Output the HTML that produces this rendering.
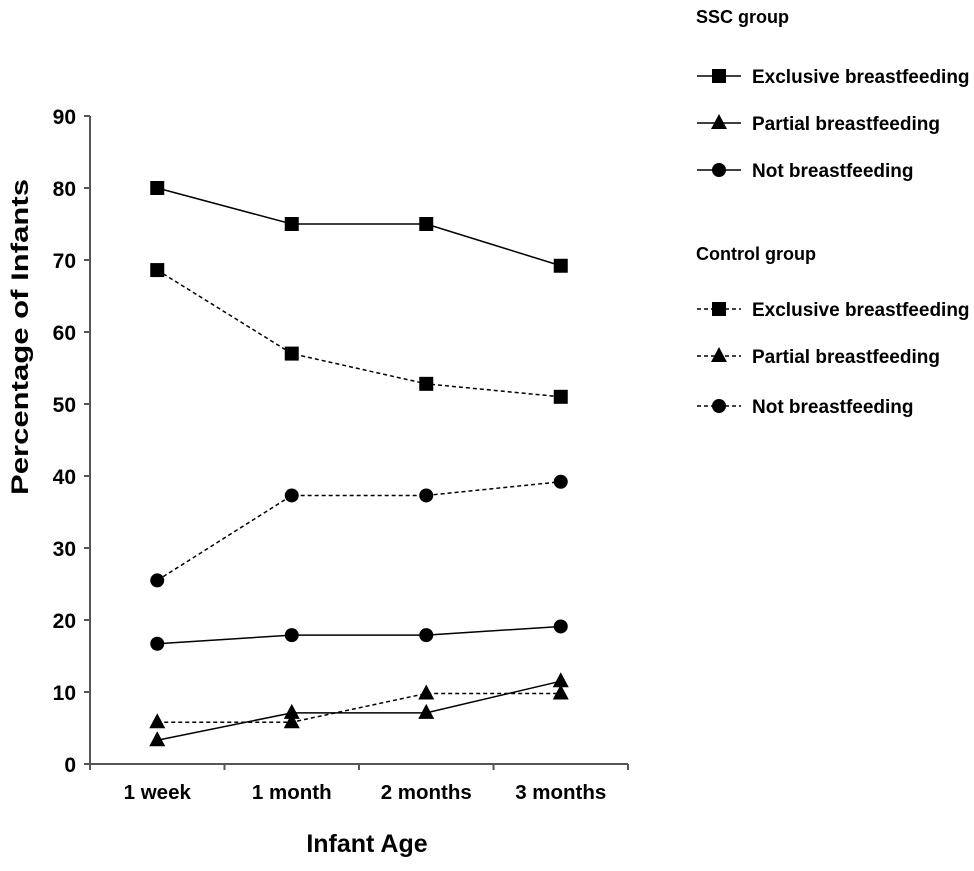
<!DOCTYPE html>
<html><head><meta charset="utf-8"><style>
body{margin:0;background:#fff}
svg text{font-family:"Liberation Sans",Arial,sans-serif;font-weight:bold;fill:#000}
</style></head><body>
<svg id="chart" width="974" height="866" xmlns="http://www.w3.org/2000/svg"></svg>
<script>
const categories=["1 week","1 month","2 months","3 months"];
const yTicks=[0,10,20,30,40,50,60,70,80,90];
const ssc_exclusive=[80,75,75,69.2];
const ssc_partial=[3.3,7.1,7.1,11.5];
const ssc_not=[16.7,17.9,17.9,19.1];
const ctl_exclusive=[68.6,57,52.8,51];
const ctl_partial=[5.8,5.8,9.8,9.8];
const ctl_not=[25.5,37.3,37.3,39.2];

const NS="http://www.w3.org/2000/svg";
const svg=document.getElementById('chart');
const x0=90,x1=628,y0=764,y90=116;
const bw=(x1-x0)/categories.length;
const xS=i=>x0+bw*(i+0.5);
const yS=v=>y0-(v/90)*(y0-y90);
function el(t,a,p){const e=document.createElementNS(NS,t);for(const k in a)e.setAttribute(k,a[k]);(p||svg).appendChild(e);return e;}

let ax=el('line',{x1:x0,y1:y90,x2:x0,y2:y0,stroke:'#555','stroke-width':2});


ax=el('line',{x1:x0,y1:y0,x2:x1,y2:y0,stroke:'#555','stroke-width':2});


yTicks.forEach(v=>{
  const y=yS(v);
  el('line',{x1:x0-6,y1:y,x2:x0,y2:y,stroke:'#555','stroke-width':2});
  const t=el('text',{x:x0-14,y:y+8,'text-anchor':'end','font-size':21});
  t.textContent=v;
  
  
});
for(let i=0;i<=categories.length;i++){
  el('line',{x1:x0+bw*i,y1:y0,x2:x0+bw*i,y2:y0+6,stroke:'#555','stroke-width':2});
}
categories.forEach((c,i)=>{
  const t=el('text',{x:xS(i),y:799,'text-anchor':'middle','font-size':20.5});
  t.textContent=c;
  
  
});
let t=el('text',{x:367,y:852,'text-anchor':'middle','font-size':25});
t.textContent='Infant Age';


t=el('text',{x:0,y:0,'text-anchor':'middle','font-size':24,textLength:316,lengthAdjust:'spacingAndGlyphs',transform:'translate(28,337) rotate(-90)'});
t.textContent='Percentage of Infants';



function marker(g,type,x,y){
  if(type==='sq')el('rect',{x:x-7,y:y-7,width:14,height:14,fill:'#000'},g);
  else if(type==='tri')el('polygon',{points:`${x},${y-9} ${x-8},${y+6} ${x+8},${y+6}`,fill:'#000'},g);
  else el('circle',{cx:x,cy:y,r:7,fill:'#000'},g);
}
function series(name,vals,type,dash){
  const g=el('g',{});
  
  
  el('polyline',{points:vals.map((v,i)=>xS(i)+','+yS(v)).join(' '),fill:'none',stroke:'#000','stroke-width':1.5,'stroke-dasharray':dash?'4,3':'none'},g);
  vals.forEach((v,i)=>marker(g,type,xS(i),yS(v)));
}
series('ssc-exclusive-line',ssc_exclusive,'sq',false);
series('ssc-partial-line',ssc_partial,'tri',false);
series('ssc-not-line',ssc_not,'circ',false);
series('control-exclusive-line',ctl_exclusive,'sq',true);
series('control-partial-line',ctl_partial,'tri',true);
series('control-not-line',ctl_not,'circ',true);

function header(txt,y,name){
  const t=el('text',{x:696,y:y,'font-size':18});
  t.textContent=txt;
  
  
}
function legend(txt,y,type,dash,name){
  const g=el('g',{});
  
  
  el('line',{x1:697,y1:y,x2:741,y2:y,stroke:'#000','stroke-width':1.5,'stroke-dasharray':dash?'4,3':'none'},g);
  marker(g,type,719,y);
  const t=el('text',{x:752,y:y+7,'font-size':19},g);
  t.textContent=txt;
}
header('SSC group',23,'legend-ssc-header');
legend('Exclusive breastfeeding',76,'sq',false,'legend-ssc-exclusive');
legend('Partial breastfeeding',123,'tri',false,'legend-ssc-partial');
legend('Not breastfeeding',170,'circ',false,'legend-ssc-not');
header('Control group',260,'legend-control-header');
legend('Exclusive breastfeeding',309,'sq',true,'legend-control-exclusive');
legend('Partial breastfeeding',356,'tri',true,'legend-control-partial');
legend('Not breastfeeding',406,'circ',true,'legend-control-not');
</script>
</body></html>
